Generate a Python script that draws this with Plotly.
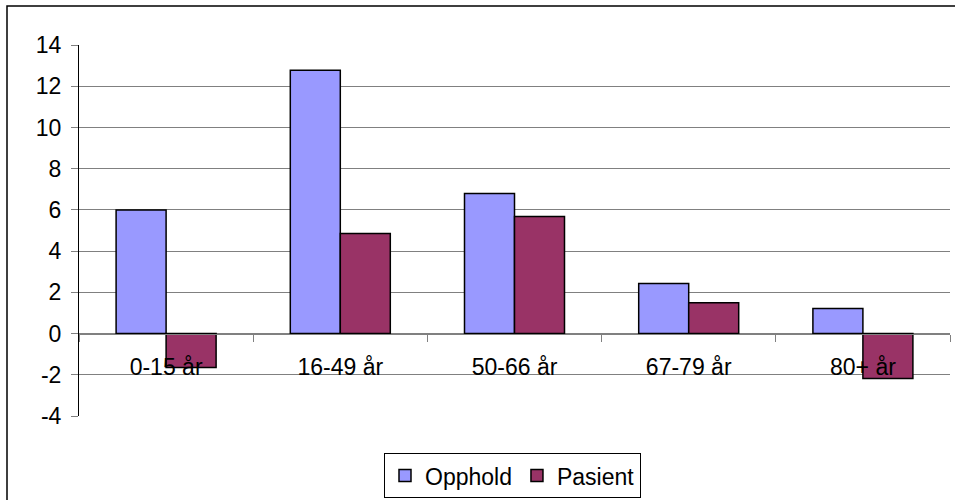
import plotly.graph_objects as go

categories = ["0-15 år", "16-49 år", "50-66 år", "67-79 år", "80+ år"]
opphold = [6.0, 12.77, 6.8, 2.43, 1.21]
pasient = [-1.65, 4.85, 5.68, 1.5, -2.18]
series_names = ["Opphold", "Pasient"]
y_ticks = [-4, -2, 0, 2, 4, 6, 8, 10, 12, 14]

FONT = "Liberation Sans, Arial, sans-serif"
FS = 23

fig = go.Figure()
fig.add_trace(go.Bar(x=categories, y=opphold, name=series_names[0],
                     marker=dict(color="#9999FF", line=dict(color="black", width=1.5))))
fig.add_trace(go.Bar(x=categories, y=pasient, name=series_names[1],
                     marker=dict(color="#993366", line=dict(color="black", width=1.5))))

fig.update_layout(
    width=955, height=500,
    margin=dict(l=79, r=5, t=45, b=84, autoexpand=False),
    paper_bgcolor="white", plot_bgcolor="white",
    font=dict(family=FONT, size=FS, color="black"),
    barmode="group", bargap=0.426, bargroupgap=0,
    showlegend=True,
    legend=dict(orientation="h", x=0.4977, xanchor="center", y=-0.1, yanchor="top",
                bordercolor="black", borderwidth=1, font=dict(size=FS),
                itemwidth=30, tracegroupgap=0),
    xaxis=dict(
        type="category", anchor="free", position=4/18,
        showline=True, linecolor="#808080", linewidth=1,
        ticks="outside", tickson="boundaries", ticklen=7, tickcolor="#808080",
        ticklabelstandoff=13, showgrid=False, zeroline=False,
        tickfont=dict(size=FS), automargin=False,
    ),
    yaxis=dict(
        range=[-4, 14], tickvals=y_ticks, ticktext=[str(v) for v in y_ticks],
        showline=True, linecolor="black", linewidth=1,
        ticks="outside", ticklen=7, tickcolor="#808080",
        ticklabelstandoff=5,
        showgrid=True, gridcolor="#808080", gridwidth=1,
        zeroline=True, zerolinecolor="#808080", zerolinewidth=1,
        tickfont=dict(size=FS), automargin=False,
    ),
    shapes=[dict(type="rect", xref="paper", yref="paper",
                 x0=-72/871, x1=1.2, y0=-0.4, y1=(416-6)/371,
                 line=dict(color="black", width=1.5), fillcolor="rgba(0,0,0,0)",
                 layer="below")],
)

fig.write_html("out.html", config={"displayModeBar": False},
               post_script="document.body.style.margin='0';document.body.style.padding='0';")
